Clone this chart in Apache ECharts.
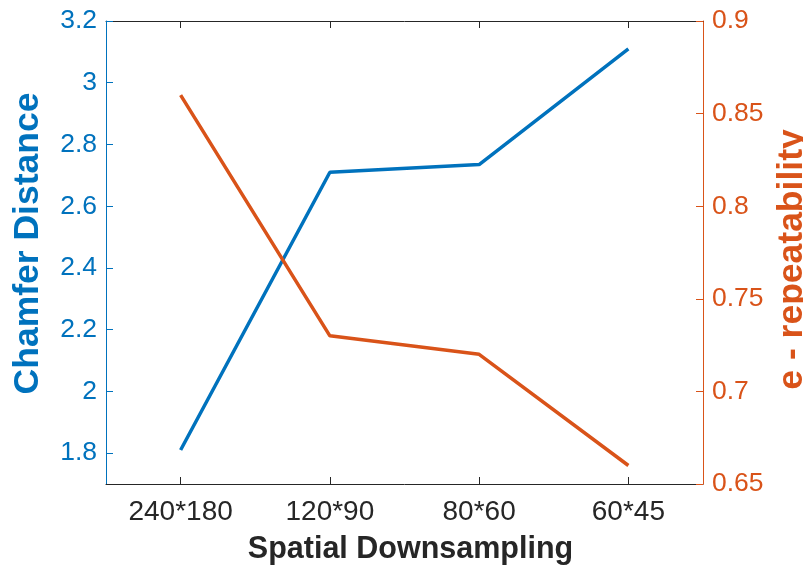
<!DOCTYPE html>
<html>
<head>
<meta charset="utf-8">
<script src="https://cdn.jsdelivr.net/npm/echarts@6/dist/echarts.min.js"></script>
<style>html,body{margin:0;padding:0;background:#fff;}#c{width:803px;height:566px;}</style>
</head>
<body>
<div id="c"></div>
<script>
const categories = ['240*180', '120*90', '80*60', '60*45'];
const chamferDistance = [1.81, 2.71, 2.735, 3.11];
const eRepeatability = [0.86, 0.73, 0.72, 0.66];
const leftTicks = [1.8, 2, 2.2, 2.4, 2.6, 2.8, 3, 3.2];
const rightTicks = [0.65, 0.7, 0.75, 0.8, 0.85, 0.9];

const BLUE = '#0072BD';
const ORANGE = '#D95319';
const DARK = '#262626';
const FONT = '"Liberation Sans", Arial, Helvetica, sans-serif';

const chart = echarts.init(document.getElementById('c'), null, {renderer: 'canvas'});
chart.setOption({
  animation: false,
  backgroundColor: '#ffffff',
  grid: {left: 106, right: 100, top: 21, bottom: 82, containLabel: false, outerBoundsMode: 'none'},
  xAxis: [
    {
      type: 'category', data: categories, position: 'bottom', boundaryGap: true,
      name: 'Spatial Downsampling', nameLocation: 'middle', nameGap: 50,
      nameTextStyle: {fontFamily: FONT, fontSize: 30.5, fontWeight: 'bold', color: DARK, padding: [0, 0, 0, 12]},
      axisLine: {show: true, lineStyle: {color: DARK, width: 1}},
      axisTick: {show: true, inside: true, length: 7, alignWithLabel: true, lineStyle: {color: DARK}},
      axisLabel: {fontFamily: FONT, fontSize: 28, color: DARK, margin: 14, interval: 0},
      splitLine: {show: false}
    },
    {
      type: 'category', data: categories, position: 'top', boundaryGap: true,
      axisLine: {show: true, lineStyle: {color: DARK, width: 1}},
      axisTick: {show: true, inside: true, length: 7, alignWithLabel: true, lineStyle: {color: DARK}},
      axisLabel: {show: false},
      splitLine: {show: false}
    }
  ],
  yAxis: [
    {
      type: 'value', position: 'left', min: 1.7, max: 3.2,
      name: 'Chamfer Distance', nameLocation: 'middle', nameGap: 60, nameRotate: 90,
      nameTextStyle: {fontFamily: FONT, fontSize: 35.5, fontWeight: 'bold', color: BLUE, padding: [0, 0, 0, 18]},
      axisLine: {show: true, lineStyle: {color: BLUE, width: 1}},
      axisTick: {show: true, inside: true, length: 7, customValues: leftTicks, lineStyle: {color: BLUE}},
      axisLabel: {fontFamily: FONT, fontSize: 26.5, color: BLUE, margin: 9, customValues: leftTicks},
      splitLine: {show: false}
    },
    {
      type: 'value', position: 'right', min: 0.65, max: 0.9,
      name: 'e - repeatability', nameLocation: 'middle', nameGap: 69, nameRotate: 90,
      nameTextStyle: {fontFamily: FONT, fontSize: 35.5, fontWeight: 'bold', color: ORANGE, padding: [0, 14, 0, 0]},
      axisLine: {show: true, lineStyle: {color: ORANGE, width: 1}},
      axisTick: {show: true, inside: true, length: 7, customValues: rightTicks, lineStyle: {color: ORANGE}},
      axisLabel: {fontFamily: FONT, fontSize: 26.5, color: ORANGE, margin: 9, customValues: rightTicks},
      splitLine: {show: false}
    }
  ],
  series: [
    {
      name: 'Chamfer Distance', type: 'line', xAxisIndex: 0, yAxisIndex: 0,
      data: chamferDistance, showSymbol: false, symbol: 'none',
      lineStyle: {color: BLUE, width: 3.5}, itemStyle: {color: BLUE}
    },
    {
      name: 'e - repeatability', type: 'line', xAxisIndex: 0, yAxisIndex: 1,
      data: eRepeatability, showSymbol: false, symbol: 'none',
      lineStyle: {color: ORANGE, width: 3.5}, itemStyle: {color: ORANGE}
    }
  ]
});
</script>
</body>
</html>
